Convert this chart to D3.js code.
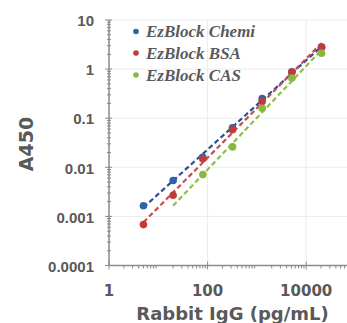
<!DOCTYPE html>
<html><head><meta charset="utf-8">
<script src="https://cdn.jsdelivr.net/npm/d3@7"></script>
<style>body{margin:0;background:#fff;} svg{display:block;}</style>
</head><body>
<svg id="c" width="347" height="323"></svg>
<script>
const concentrations = [5, 20, 80, 320, 1280, 5120, 20480];
const seriesNames = ["EzBlock Chemi", "EzBlock BSA", "EzBlock CAS"];
const chemiValues = [0.00165, 0.0054, 0.016, 0.064, 0.25, 0.88, 2.8];
const bsaValues = [0.00068, 0.0027, 0.015, 0.058, 0.22, 0.86, 2.8];
const casValues = [null, null, 0.0071, 0.026, 0.16, 0.66, 2.1];
const casTrendStart = 20;
const seriesColors = ["#2f62ad", "#c23b3b", "#8ab83f"];
const lineColors = ["#2b4f8f", "#d0494a", "#8cbf45"];
const yTickValues = [10, 1, 0.1, 0.01, 0.001, 0.0001];
const yTickLabels = ["10", "1", "0.1", "0.01", "0.001", "0.0001"];
const xTickValues = [1, 100, 10000];
const xTickLabels = ["1", "100", "10000"];

const svg = d3.select("#c");
const x = d3.scaleLog().domain([1, 100000]).range([109, 355.5]);
const y = d3.scaleLog().domain([0.0001, 10]).range([265.5, 20]);
const gray = "#595959";

// grid
svg.append("g").selectAll("line").data([100, 10000]).join("line")
  .attr("x1", d => x(d)).attr("x2", d => x(d)).attr("y1", y(10)).attr("y2", y(0.0001))
  .attr("stroke", "#ececec").attr("stroke-width", 1);
svg.append("g").selectAll("line").data([10, 1, 0.1, 0.01, 0.001]).join("line")
  .attr("x1", x(1)).attr("x2", 347).attr("y1", d => y(d)).attr("y2", d => y(d))
  .attr("stroke", "#ececec").attr("stroke-width", 1);

// minor ticks
const yMinor = [];
for (let e = -4; e < 1; e++) for (let m = 2; m <= 9; m++) yMinor.push(m * Math.pow(10, e));
svg.append("g").selectAll("line").data(yMinor).join("line")
  .attr("x1", x(1) - 2).attr("x2", x(1) + 2).attr("y1", d => y(d)).attr("y2", d => y(d))
  .attr("stroke", "#8a8a8a").attr("stroke-width", 1);
const xMinor = [];
for (let e = 0; e < 5; e++) for (let m = 2; m <= 9; m++) xMinor.push(m * Math.pow(10, e));
svg.append("g").selectAll("line").data(xMinor).join("line")
  .attr("x1", d => x(d)).attr("x2", d => x(d)).attr("y1", y(0.0001)).attr("y2", y(0.0001) + 3)
  .attr("stroke", "#8a8a8a").attr("stroke-width", 1);

// axes lines
svg.append("line").attr("x1", x(1)).attr("x2", 347).attr("y1", y(0.0001)).attr("y2", y(0.0001))
  .attr("stroke", "#8a8a8a").attr("stroke-width", 1.5);
svg.append("line").attr("x1", x(1)).attr("x2", x(1)).attr("y1", y(10)).attr("y2", y(0.0001))
  .attr("stroke", "#8a8a8a").attr("stroke-width", 1.5);
// major ticks
svg.append("g").selectAll("line").data(yTickValues).join("line")
  .attr("x1", x(1) - 4).attr("x2", x(1) + 3).attr("y1", d => y(d)).attr("y2", d => y(d))
  .attr("stroke", "#8a8a8a").attr("stroke-width", 1);
svg.append("g").selectAll("line").data(xTickValues).join("line")
  .attr("x1", d => x(d)).attr("x2", d => x(d)).attr("y1", y(0.0001) - 4).attr("y2", y(0.0001) + 4)
  .attr("stroke", "#8a8a8a").attr("stroke-width", 1);

// tick labels
svg.append("g").selectAll("text").data(yTickValues).join("text")
  .attr("x", 94).attr("y", d => y(d) + 1).attr("dy", "0.35em").attr("text-anchor", "end")
  .attr("font-family", "Liberation Sans, Arial, sans-serif").attr("font-weight", "bold")
  .attr("font-size", 15).attr("fill", gray).text((d, i) => yTickLabels[i]);
svg.append("g").selectAll("text").data(xTickValues).join("text")
  .attr("x", d => x(d)).attr("y", 290.5).attr("dy", "0.36em").attr("text-anchor", "middle")
  .attr("font-family", "DejaVu Sans, Verdana, sans-serif").attr("font-weight", "bold")
  .attr("font-size", 15).attr("fill", gray).text((d, i) => xTickLabels[i]);

// axis titles
svg.append("text").attr("transform", "translate(33,144) rotate(-90)")
  .attr("text-anchor", "middle").attr("font-family", "DejaVu Sans, Verdana, sans-serif")
  .attr("font-weight", "bold").attr("font-size", 19).attr("fill", gray).text("A450");
svg.append("text").attr("x", 232.5).attr("y", 320).attr("text-anchor", "middle")
  .attr("font-family", "DejaVu Sans, Verdana, sans-serif")
  .attr("font-weight", "bold").attr("font-size", 18).attr("fill", gray).text("Rabbit IgG (pg/mL)");

// series & trendlines
const allSeries = [chemiValues, bsaValues, casValues];
allSeries.forEach((vals, si) => {
  const pts = concentrations.map((c, i) => [c, vals[i]]).filter(p => p[1] != null);
  const lx = pts.map(p => Math.log10(p[0])), ly = pts.map(p => Math.log10(p[1]));
  const mx = d3.mean(lx), my = d3.mean(ly);
  const slope = d3.sum(lx.map((v, i) => (v - mx) * (ly[i] - my))) / d3.sum(lx.map(v => (v - mx) ** 2));
  const b = my - slope * mx;
  const x0 = si === 2 ? casTrendStart : pts[0][0];
  const x1 = pts[pts.length - 1][0];
  const f = c => Math.pow(10, b + slope * Math.log10(c));
  svg.append("line").attr("x1", x(x0)).attr("y1", y(f(x0))).attr("x2", x(x1)).attr("y2", y(f(x1)))
    .attr("stroke", lineColors[si]).attr("stroke-width", 2.2).attr("stroke-dasharray", "5,3");
  svg.append("g").selectAll("circle").data(pts).join("circle")
    .attr("cx", d => x(d[0])).attr("cy", d => y(d[1])).attr("r", 3.8)
    .attr("fill", seriesColors[si]);
});

// legend
const lg = svg.append("g");
[31.5, 53, 75].forEach((ly, i) => {
  lg.append("circle").attr("cx", 136).attr("cy", ly).attr("r", 2.8).attr("fill", seriesColors[i]);
  lg.append("text").attr("x", 146).attr("y", ly).attr("dy", "0.33em")
    .attr("font-family", "Liberation Serif, Times New Roman, serif").attr("font-style", "italic")
    .attr("font-weight", "bold").attr("font-size", 17).attr("fill", "#5a5a5a").text(seriesNames[i]);
});
</script>
</body></html>
